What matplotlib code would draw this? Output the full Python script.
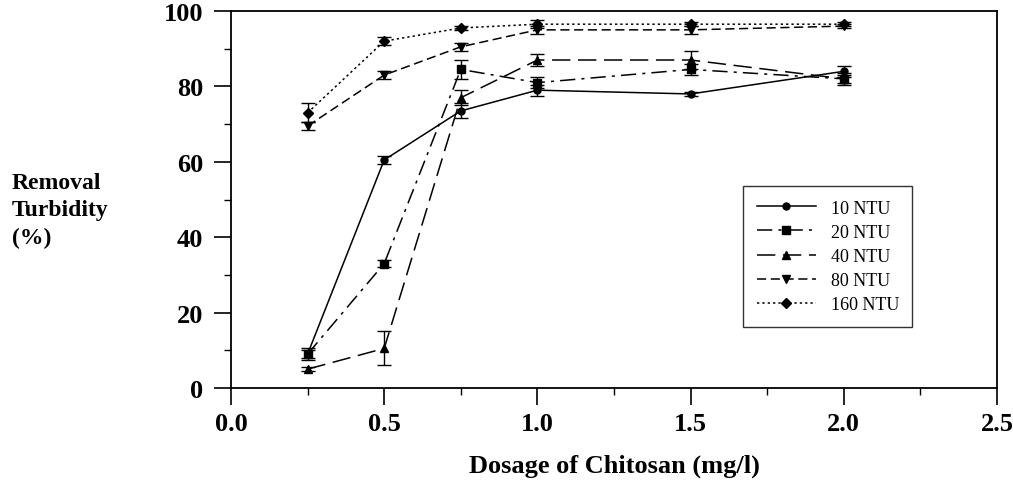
import matplotlib
matplotlib.use("Agg")
import matplotlib.pyplot as plt
from matplotlib.ticker import MultipleLocator, FormatStrFormatter

plt.rcParams['font.family'] = ['Liberation Serif', 'DejaVu Serif']

dosage = [0.25, 0.5, 0.75, 1.0, 1.5, 2.0]
ntu10 = [9, 60.5, 73.5, 79, 78, 84]
ntu20 = [9, 33, 84.5, 81, 84.5, 82]
ntu40 = [5, 10.5, 77, 87, 87, 82]
ntu80 = [69.5, 83, 90.5, 95, 95, 96]
ntu160 = [73, 92, 95.5, 96.5, 96.5, 96.5]
err10 = [1.0, 1.0, 2.0, 1.5, 0.5, 1.5]
err20 = [1.5, 1.0, 2.5, 1.5, 1.5, 1.5]
err40 = [0.5, 4.5, 2.0, 1.5, 2.5, 1.0]
err80 = [1.0, 1.0, 1.0, 1.0, 1.0, 0.5]
err160 = [2.5, 1.0, 0.5, 1.0, 0.5, 0.5]
labels = ['10 NTU', '20 NTU', '40 NTU', '80 NTU', '160 NTU']

fig = plt.figure(figsize=(10.13, 4.81), dpi=100)
ax = fig.add_axes([231/1013, 1-389/481, (997-231)/1013, (389-12)/481])

styles = [
    dict(marker='o', ls='-', ms=5),
    dict(marker='s', ls=(0, (10, 4, 2, 4)), ms=6),
    dict(marker='^', ls=(0, (12, 5)), ms=6),
    dict(marker='v', ls=(0, (6, 3)), ms=6),
    dict(marker='D', ls=(0, (1.5, 2)), ms=5),
]
series = [ntu10, ntu20, ntu40, ntu80, ntu160]
errs = [err10, err20, err40, err80, err160]
for ys, es, st, lab in zip(series, errs, styles, labels):
    ax.errorbar(dosage, ys, yerr=es, color='black', fmt='none', capsize=5,
                elinewidth=1.0)
    ax.plot(dosage, ys, color='black', lw=1.1, marker=st['marker'],
            ms=st['ms'], linestyle=st['ls'], label=lab)

ax.set_xlim(0, 2.5)
ax.set_ylim(0, 100)
ax.xaxis.set_major_locator(MultipleLocator(0.5))
ax.xaxis.set_minor_locator(MultipleLocator(0.25))
ax.xaxis.set_major_formatter(FormatStrFormatter('%.1f'))
ax.yaxis.set_major_locator(MultipleLocator(20))
ax.yaxis.set_minor_locator(MultipleLocator(10))
ax.tick_params(which='major', direction='out', length=12, width=1.2,
               labelsize=19)
ax.tick_params(axis='x', which='major', pad=5)
ax.tick_params(axis='y', which='major', pad=8)
ax.tick_params(which='minor', direction='out', length=5, width=1.0)
for lab in ax.get_xticklabels() + ax.get_yticklabels():
    lab.set_fontweight('bold')
for s in ax.spines.values():
    s.set_linewidth(1.3)

ax.set_xlabel('Dosage of Chitosan (mg/l)', fontsize=19, fontweight='bold',
              labelpad=14)
fig.text(12/1013, 1-211/481, 'Removal\nTurbidity\n(%)', fontsize=17,
         fontweight='bold', ha='left', va='center', linespacing=1.4)

leg = ax.legend(loc='upper left', bbox_to_anchor=((743-231)/766, 1-(187-12)/377),
                fontsize=13, frameon=True, fancybox=False, edgecolor='black',
                handlelength=3.3, handletextpad=0.8, borderpad=0.75,
                labelspacing=0.4, borderaxespad=0)
leg.get_frame().set_linewidth(1.0)

fig.savefig('out.png', dpi=100)
